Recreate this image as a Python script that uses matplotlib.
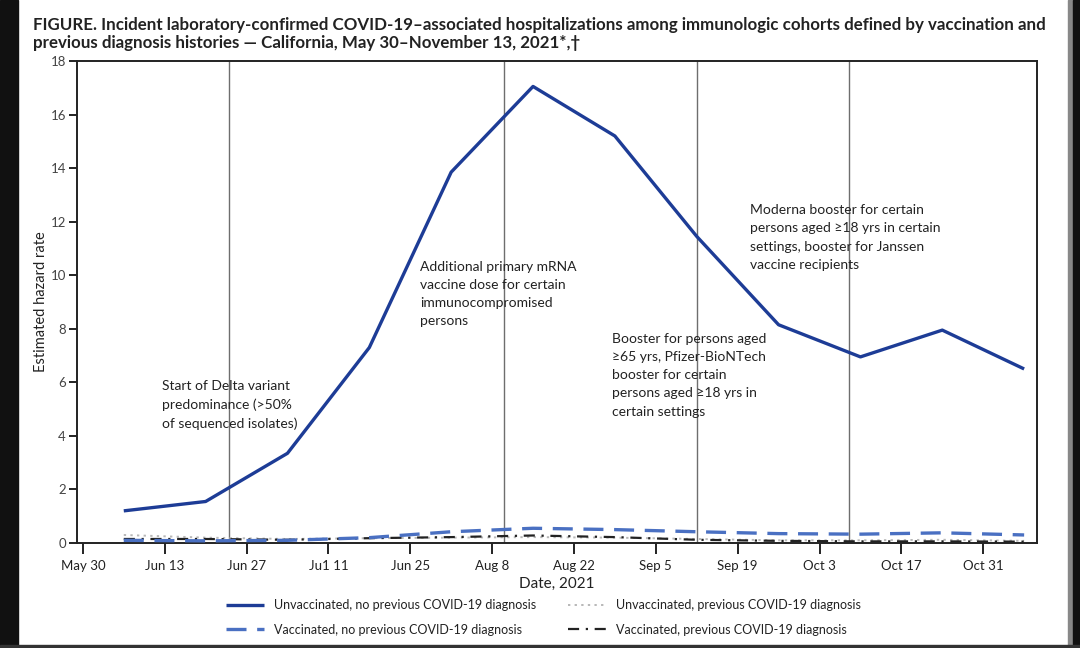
import matplotlib
matplotlib.use("Agg")
import matplotlib.pyplot as plt
from matplotlib.patches import Rectangle
import numpy as np
import datetime as dt

plt.rcParams['font.family'] = ['Lato', 'DejaVu Sans']

# ---- data ----
dates = ["2021-06-06", "2021-06-20", "2021-07-04", "2021-07-18", "2021-08-01", "2021-08-15",
         "2021-08-29", "2021-09-12", "2021-09-26", "2021-10-10", "2021-10-24", "2021-11-07"]
unvax_noprev = [1.2, 1.55, 3.35, 7.3, 13.85, 17.05, 15.2, 11.45, 8.15, 6.95, 7.95, 6.5]
vax_noprev = [0.1, 0.08, 0.1, 0.2, 0.42, 0.55, 0.5, 0.42, 0.35, 0.33, 0.38, 0.3]
unvax_prev = [0.3, 0.2, 0.15, 0.18, 0.2, 0.22, 0.2, 0.15, 0.1, 0.1, 0.12, 0.08]
vax_prev = [0.15, 0.15, 0.12, 0.18, 0.22, 0.28, 0.22, 0.12, 0.08, 0.06, 0.06, 0.05]

series_labels = ["Unvaccinated, no previous COVID-19 diagnosis",
                 "Vaccinated, no previous COVID-19 diagnosis",
                 "Unvaccinated, previous COVID-19 diagnosis",
                 "Vaccinated, previous COVID-19 diagnosis"]

tick_dates = ["2021-05-30", "2021-06-13", "2021-06-27", "2021-07-11", "2021-07-25", "2021-08-08",
              "2021-08-22", "2021-09-05", "2021-09-19", "2021-10-03", "2021-10-17", "2021-10-31"]
tick_labels = ["May 30", "Jun 13", "Jun 27", "Ju1 11", "Jun 25", "Aug 8",
               "Aug 22", "Sep 5", "Sep 19", "Oct 3", "Oct 17", "Oct 31"]

event_dates = ["2021-06-24", "2021-08-10", "2021-09-12", "2021-10-08"]
event_texts = ["Start of Delta variant\npredominance (>50%\nof sequenced isolates)",
               "Additional primary mRNA\nvaccine dose for certain\nimmunocompromised\npersons",
               "Booster for persons aged\n\u226565 yrs, Pfizer-BioNTech\nbooster for certain\npersons aged \u226518 yrs in\ncertain settings",
               "Moderna booster for certain\npersons aged \u226518 yrs in certain\nsettings, booster for Janssen\nvaccine recipients"]
event_text_pos = [(0.0885, 0.338), (0.357, 0.586), (0.557, 0.436), (0.701, 0.703)]

title = ("FIGURE. Incident laboratory-confirmed COVID-19\u2013associated hospitalizations among immunologic cohorts defined by vaccination and\n"
         "previous diagnosis histories \u2014 California, May 30\u2013November 13, 2021*,\u2020")

d = [dt.datetime.fromisoformat(s) for s in dates]
td = [dt.datetime.fromisoformat(s) for s in tick_dates]
ed = [dt.datetime.fromisoformat(s) for s in event_dates]

fig = plt.figure(figsize=(10.8, 6.48), dpi=100)
ax = fig.add_axes([77/1080, 1-543/648, 960/1080, 482/648])

for e in ed:
    ax.axvline(e, color='#6e6e6e', lw=1.0, zorder=1)

h1, = ax.plot(d, unvax_noprev, color='#1d3c96', lw=2.4, solid_capstyle='butt', zorder=5)
h2, = ax.plot(d, vax_noprev, color='#4a70c2', lw=2.4, dashes=(6, 3.2), zorder=4)
h3, = ax.plot(d, unvax_prev, color='#b8b8b8', lw=1.4, dashes=(1.2, 2.2), zorder=3)
h4, = ax.plot(d, vax_prev, color='#222222', lw=1.6, dashes=(5, 3, 1, 3), zorder=3)

ax.set_xlim(dt.datetime(2021, 5, 29), dt.datetime(2021, 5, 30) + dt.timedelta(days=163.2))
ax.set_ylim(0, 18)
ax.set_yticks(np.arange(0, 19, 2))
ax.set_xticks(td)
ax.set_xticklabels(tick_labels)

for s in ax.spines.values():
    s.set_linewidth(1.4)
    s.set_color('#222222')
ax.tick_params(axis='x', direction='out', length=8, width=1.4, labelsize=9.5, pad=4, colors='#222222')
ax.tick_params(axis='y', direction='out', length=6, width=1.4, labelsize=9.5, pad=2, colors='#222222')
for lbl in ax.get_yticklabels():
    lbl.set_color('#444444')

ax.set_xlabel("Date, 2021", fontsize=11, labelpad=4, color='#222222')
ax.set_ylabel("Estimated hazard rate", fontsize=10.5, labelpad=2, color='#222222')

for (x, y), t in zip(event_text_pos, event_texts):
    ax.text(x, y, t, transform=ax.transAxes, ha='left', va='top', fontsize=10,
            linespacing=1.62, color='#222222')

fig.text(33/1080, 1-17/648, title, ha='left', va='top', fontsize=12.2, fontweight='bold',
         linespacing=1.12, color='#222222')

leg = fig.legend([h1, h2, h3, h4], series_labels, ncol=2, loc='upper left',
                 bbox_to_anchor=(226/1080, 1-599/648), frameon=False,
                 prop={'size': 9},
                 handlelength=3.0, handletextpad=0.8, columnspacing=2.6,
                 labelspacing=1.0, borderpad=0, borderaxespad=0)
for t in leg.get_texts():
    t.set_color('#222222')

# screenshot frame edges
fig.add_artist(Rectangle((0, 0), 18/1080, 1, transform=fig.transFigure, color='#111111', zorder=10))
fig.add_artist(Rectangle((1068/1080, 0), 5/1080, 1, transform=fig.transFigure, color='#888888', zorder=10))
fig.add_artist(Rectangle((1073/1080, 0), 7/1080, 1, transform=fig.transFigure, color='#111111', zorder=10))
fig.add_artist(Rectangle((0, 0), 1, 3/648, transform=fig.transFigure, color='#333333', zorder=10))

fig.savefig("out.png", dpi=100)
